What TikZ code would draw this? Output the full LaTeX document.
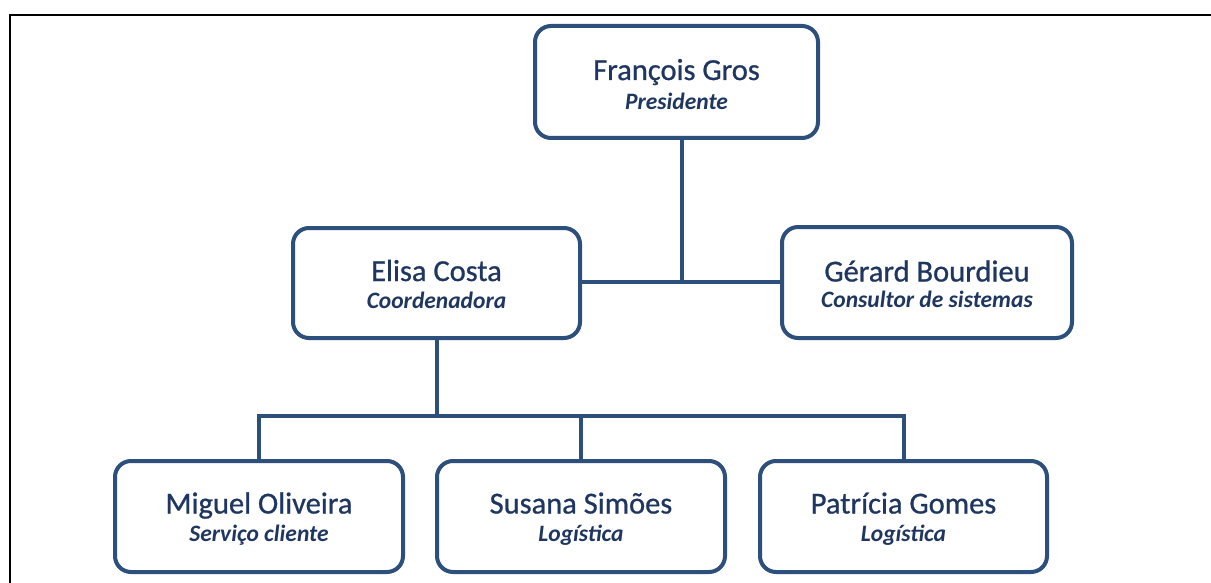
\documentclass[tikz,border=0pt]{standalone}
\usepackage{fontspec}
\setmainfont{Carlito}
\newfontfamily\namefont[FakeBold=0.8]{Carlito}
\definecolor{boxline}{HTML}{2C4F7C}
\definecolor{ink}{HTML}{1F3760}
\tikzset{
  person/.style={draw=boxline, line width=4pt, rounded corners=16pt, fill=white,
    inner sep=0pt, minimum width=288pt, minimum height=110pt},
  pname/.style={anchor=base, text=ink, inner sep=0pt,
    font=\namefont\fontsize{30.5}{32}\selectfont},
  prole/.style={anchor=base, text=ink, inner sep=0pt,
    font=\fontsize{23.5}{25}\selectfont\bfseries\itshape},
  link/.style={draw=boxline, line width=4pt},
  frame/.style={draw=black, line width=2.2pt}
}
\begin{document}
\begin{tikzpicture}[x=1pt, y=-1pt]
  \useasboundingbox (0,0) rectangle (1211,583);
  % page frame (left and top edges)
  \draw[frame] (10,583) -- (10,15) -- (1211,15);

  % boxes
  \node[person, minimum width=283pt, minimum height=112pt] (fg) at (676.5,82) {};
  \node[person, minimum width=287pt] (ec) at (436.5,283) {};
  \node[person, minimum width=290pt, minimum height=111pt] (gb) at (927,282.5) {};
  \node[person, minimum height=111pt] (mo) at (259,516.5) {};
  \node[person, minimum height=111pt] (ss) at (581,516.5) {};
  \node[person, minimum width=287pt, minimum height=111pt] (pg) at (903.5,516.5) {};

  % names and roles
  \node[pname] (fgn) at ([yshift=2pt]fg.center) {François Gros};
  \node[prole] (fgr) at ([yshift=-28pt]fg.center) {Presidente};
  \node[pname] (ecn) at ([yshift=2pt]ec.center) {Elisa Costa};
  \node[prole] (ecr) at ([yshift=-25pt]ec.center) {Coordenadora};
  \node[pname] (gbn) at ([yshift=1pt]gb.center) {Gérard Bourdieu};
  \node[prole] (gbr) at ([yshift=-25pt]gb.center) {Consultor de sistemas};
  \node[pname] (mon) at ([yshift=3pt]mo.center) {Miguel Oliveira};
  \node[prole] (mor) at ([yshift=-25pt]mo.center) {Serviço cliente};
  \node[pname] (ssn) at ([yshift=3pt]ss.center) {Susana Simões};
  \node[prole] (ssr) at ([yshift=-25pt]ss.center) {Logística};
  \node[pname] (pgn) at ([yshift=3pt]pg.center) {Patrícia Gomes};
  \node[prole] (pgr) at ([yshift=-25pt]pg.center) {Logística};

  % connectors
  \coordinate (j1) at (682,282);
  \coordinate (j2) at (437,416);
  \draw[link] (fg.south -| j1) -- (j1);
  \draw[link] (ec.east |- j1) -- (gb.west |- j1);
  \draw[link] (ec.south -| j2) -- (j2);
  \draw[link] (mo.north) -- (mo.north |- j2) -- (pg.north |- j2) -- (pg.north);
  \draw[link] (ss.north) -- (ss.north |- j2);
\end{tikzpicture}
\end{document}
